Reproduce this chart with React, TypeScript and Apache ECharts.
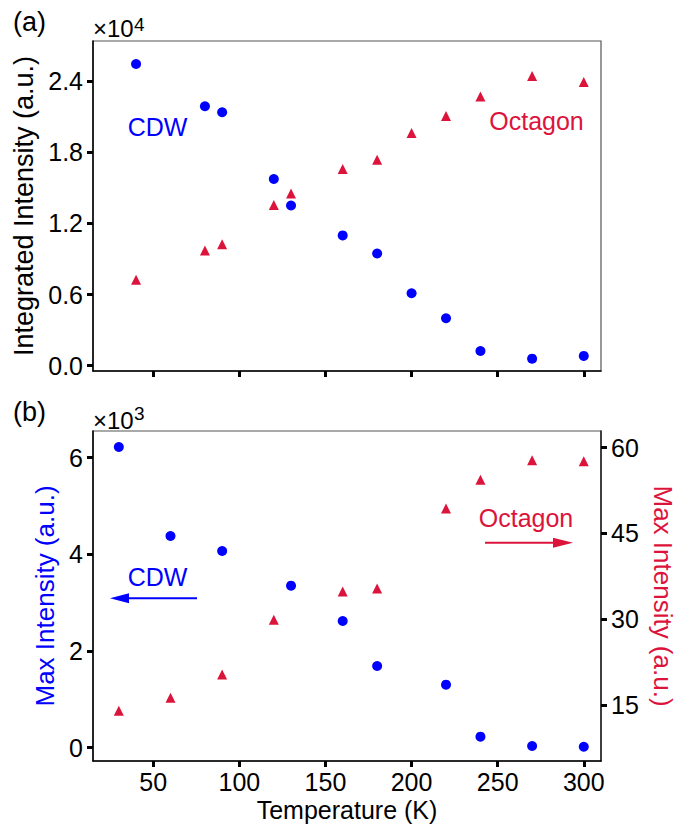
import React, { useEffect, useRef } from "react";
import * as echarts from "echarts";

// Panel (a): integrated intensity (×10^4)
const topCdwTemps = [40, 80, 90, 120, 130, 160, 180, 200, 220, 240, 270, 300];
const topCdwValues = [2.546, 2.189, 2.139, 1.575, 1.352, 1.099, 0.947, 0.611, 0.4, 0.124, 0.059, 0.082];
const topOctTemps = [40, 80, 90, 120, 130, 160, 180, 200, 220, 240, 270, 300];
const topOctValues = [0.726, 0.973, 1.024, 1.355, 1.453, 1.659, 1.738, 1.963, 2.106, 2.271, 2.445, 2.394];

// Panel (b): max intensity (CDW ×10^3 on left axis, Octagon on right axis)
const botCdwTemps = [30, 60, 90, 130, 160, 180, 220, 240, 270, 300];
const botCdwValues = [6.22, 4.378, 4.068, 3.351, 2.62, 1.69, 1.303, 0.228, 0.035, 0.02];
const botOctTemps = [30, 60, 90, 120, 160, 180, 220, 240, 270, 300];
const botOctValues = [14.0, 16.27, 20.35, 29.9, 34.84, 35.4, 49.36, 54.4, 57.8, 57.6];

// Tick labels
const xTicks = [50, 100, 150, 200, 250, 300];
const topYTicks = [0, 0.6, 1.2, 1.8, 2.4];
const botLeftTicks = [0, 2, 4, 6];
const botRightTicks = [15, 30, 45, 60];

const FONT = "'Liberation Sans', Arial, Helvetica, sans-serif";
const BLUE = "#0000FF";
const RED = "#DC143C";

const zip = (xs: number[], ys: number[]) => xs.map((x, i) => [x, ys[i]]);

export default function App() {
  const ref = useRef<HTMLDivElement>(null);
  useEffect(() => {
    if (!ref.current) return;
    const chart = echarts.init(ref.current, undefined, { renderer: "svg" });
    const axisLine = { onZero: false, lineStyle: { color: "#000", width: 1.5 } };
    const tick = (vals: number[]) => ({ customValues: vals, length: 6, lineStyle: { color: "#000", width: 3 } });
    const label = (vals: number[], margin: number, fmt?: (v: number) => string) => ({
      customValues: vals,
      fontSize: 25,
      color: "#000",
      margin,
      fontFamily: FONT,
      formatter: fmt,
    });
    const option: any = {
      animation: false,
      textStyle: { fontFamily: FONT },
      grid: [
        { left: 93, top: 41, width: 508, height: 330, show: true, borderColor: "#555", borderWidth: 1.2 },
        { left: 93, top: 431, width: 508, height: 330, show: true, borderColor: "#555", borderWidth: 1.2 },
      ],
      xAxis: [
        {
          type: "value", gridIndex: 0, min: 15, max: 310,
          axisLine, axisTick: tick(xTicks), axisLabel: { show: false }, splitLine: { show: false },
        },
        {
          type: "value", gridIndex: 1, min: 15, max: 310,
          axisLine, axisTick: tick(xTicks), axisLabel: label(xTicks, 8, (v) => String(v)), splitLine: { show: false },
          name: "Temperature (K)", nameLocation: "middle", nameGap: 36,
          nameTextStyle: { fontSize: 25, color: "#000", fontFamily: FONT },
        },
      ],
      yAxis: [
        {
          type: "value", gridIndex: 0, min: -0.045, max: 2.74,
          axisLine, axisTick: tick(topYTicks), axisLabel: label(topYTicks, 10, (v) => v.toFixed(1)), splitLine: { show: false },
          name: "Integrated Intensity (a.u.)", nameLocation: "middle", nameGap: 47, nameRotate: 90,
          nameTextStyle: { fontSize: 27, color: "#000", fontFamily: FONT },
        },
        {
          type: "value", gridIndex: 1, min: -0.275, max: 6.55,
          axisLine, axisTick: tick(botLeftTicks), axisLabel: label(botLeftTicks, 10, (v) => String(v)), splitLine: { show: false },
          name: "Max Intensity (a.u.)", nameLocation: "middle", nameGap: 27, nameRotate: 90,
          nameTextStyle: { fontSize: 26, color: BLUE, fontFamily: FONT },
        },
        {
          type: "value", gridIndex: 1, position: "right", min: 5.24, max: 62.9,
          axisLine: { onZero: false, lineStyle: { color: "#222", width: 1.5 } },
          axisTick: tick(botRightTicks), axisLabel: label(botRightTicks, 10, (v) => String(v)), splitLine: { show: false },
          name: "Max Intensity (a.u.)", nameLocation: "middle", nameGap: 37, nameRotate: -90,
          nameTextStyle: { fontSize: 26, color: RED, fontFamily: FONT },
        },
      ],
      series: [
        { type: "scatter", xAxisIndex: 0, yAxisIndex: 0, symbol: "circle", symbolSize: 10, itemStyle: { color: BLUE, opacity: 1 }, data: zip(topCdwTemps, topCdwValues) },
        { type: "scatter", xAxisIndex: 0, yAxisIndex: 0, symbol: "triangle", symbolSize: 10, itemStyle: { color: RED, opacity: 1 }, data: zip(topOctTemps, topOctValues) },
        { type: "scatter", xAxisIndex: 1, yAxisIndex: 1, symbol: "circle", symbolSize: 10, itemStyle: { color: BLUE, opacity: 1 }, data: zip(botCdwTemps, botCdwValues) },
        { type: "scatter", xAxisIndex: 1, yAxisIndex: 2, symbol: "triangle", symbolSize: 10, itemStyle: { color: RED, opacity: 1 }, data: zip(botOctTemps, botOctValues) },
      ],
      graphic: [
        { type: "text", left: 13, top: 8, style: { text: "(a)", fontSize: 27, fill: "#000", fontFamily: FONT } },
        { type: "text", left: 13, top: 398, style: { text: "(b)", fontSize: 27, fill: "#000", fontFamily: FONT } },
        { type: "text", x: 93, y: 28, style: { text: "×10", fontSize: 24, fill: "#000", fontFamily: FONT, align: "left", verticalAlign: "middle" } },
        { type: "text", x: 134, y: 24, style: { text: "4", fontSize: 19, fill: "#000", fontFamily: FONT, align: "left", verticalAlign: "middle" } },
        { type: "text", x: 93, y: 420, style: { text: "×10", fontSize: 24, fill: "#000", fontFamily: FONT, align: "left", verticalAlign: "middle" } },
        { type: "text", x: 134, y: 413, style: { text: "3", fontSize: 19, fill: "#000", fontFamily: FONT, align: "left", verticalAlign: "middle" } },
        { type: "text", x: 157.5, y: 127, style: { text: "CDW", fontSize: 25, fill: BLUE, fontFamily: FONT, align: "center", verticalAlign: "middle" } },
        { type: "text", x: 536.5, y: 121, style: { text: "Octagon", fontSize: 25, fill: RED, fontFamily: FONT, align: "center", verticalAlign: "middle" } },
        { type: "text", x: 157.5, y: 577, style: { text: "CDW", fontSize: 25, fill: BLUE, fontFamily: FONT, align: "center", verticalAlign: "middle" } },
        { type: "text", x: 526, y: 518, style: { text: "Octagon", fontSize: 25, fill: RED, fontFamily: FONT, align: "center", verticalAlign: "middle" } },
        { type: "line", shape: { x1: 197, y1: 598.3, x2: 126, y2: 598.3 }, style: { stroke: BLUE, lineWidth: 2 } },
        { type: "polygon", shape: { points: [[110, 598.3], [129, 593.3], [129, 603.3]] }, style: { fill: BLUE } },
        { type: "line", shape: { x1: 485, y1: 542.7, x2: 556, y2: 542.7 }, style: { stroke: RED, lineWidth: 2 } },
        { type: "polygon", shape: { points: [[573, 542.7], [553, 537.7], [553, 547.7]] }, style: { fill: RED } },
      ],
    };
    chart.setOption(option);
    return () => chart.dispose();
  }, []);
  return <div ref={ref} style={{ position: "absolute", left: 0, top: 0, width: 685, height: 828 }} />;
}
